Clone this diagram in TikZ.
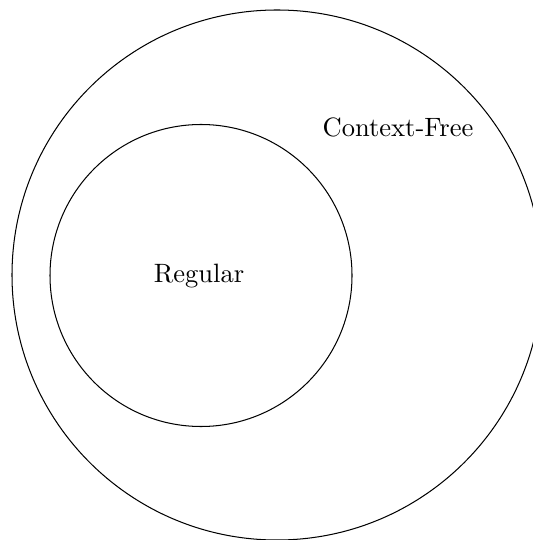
\documentclass[tikz,border=0pt]{standalone}
\begin{document}
\begin{tikzpicture}[x=0.39pt,y=-0.39pt,
  setcircle/.style={draw,circle,line width=0.4pt},
  setlabel/.style={inner sep=0pt,font=\fontsize{10.35pt}{12pt}\selectfont}]
\useasboundingbox (0,0) rectangle (533,540);
\node[setcircle,minimum size=530*0.39pt,inner sep=0pt] (cf) at (277,275) {};
\node[setcircle,minimum size=302*0.39pt,inner sep=0pt] (reg) at (201,275.5) {};
\node[setlabel] (cflabel) at (398,127) {Context-Free};
\node[setlabel] (reglabel) at (199,276) {Regular};
\end{tikzpicture}
\end{document}
